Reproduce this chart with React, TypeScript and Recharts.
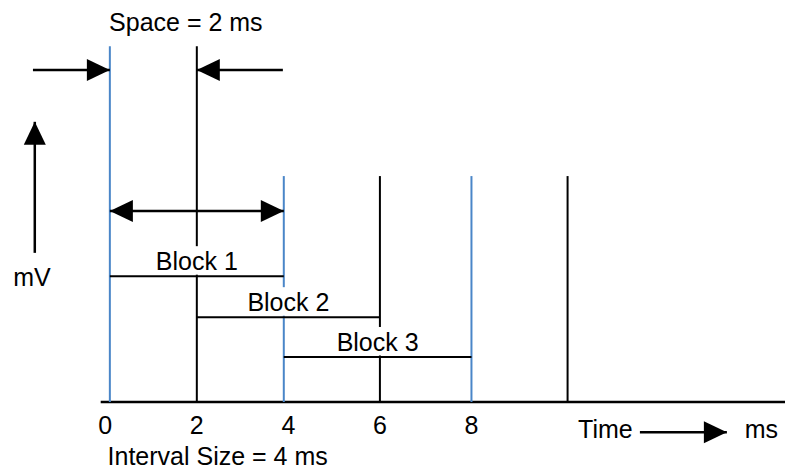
import { ComposedChart, XAxis, YAxis, ReferenceLine, ReferenceDot } from 'recharts';

// time (ms) of each pulse edge and its height
const pulseTimes = [0.1, 2, 3.9, 6, 8, 10.1];
const pulseHeights = [8.85, 8.85, 5.62, 5.62, 5.62, 5.62];

// overlapping blocks
const blockNames = ['Block 1', 'Block 2', 'Block 3'];
const blockStart = [0.1, 2, 3.9];
const blockEnd = [3.9, 6, 8];
const blockLevel = [3.13, 2.11, 1.12];

const timeTicks = [0, 2, 4, 6, 8];

// arrows: [x1, y1, x2, y2], head at (x2, y2)
const spaceArrows = [
  [-1.58, 8.26, 0.1, 8.26],
  [3.88, 8.26, 2, 8.26],
];
const intervalArrow = [0.1, 4.75, 3.9, 4.75];
const mvArrow = [-1.54, 3.71, -1.54, 6.97];
const timeArrow = [11.68, -0.75, 13.58, -0.75];

// text notes: [text, x, y, anchor]
const notes: [string, number, number, string][] = [
  ['Space = 2 ms', 1.76, 9.23, 'middle'],
  ['mV', -1.6, 2.88, 'middle'],
  ['Interval Size = 4 ms', 0.05, -1.57, 'start'],
  ['Time', 10.33, -0.9, 'start'],
  ['ms', 13.97, -0.9, 'start'],
];

const FONT = '"Liberation Sans", Arial, sans-serif';
const FS = 25;
const BLUE = '#4A86C8';
const HEAD_L = 23;
const HEAD_W = 11;

const head = (x: number, y: number, fx: number, fy: number, key: string) => {
  const dx = x - fx;
  const dy = y - fy;
  const len = Math.hypot(dx, dy) || 1;
  const ux = dx / len;
  const uy = dy / len;
  const bx = x - ux * HEAD_L;
  const by = y - uy * HEAD_L;
  const pts = `${x},${y} ${bx - uy * HEAD_W},${by + ux * HEAD_W} ${bx + uy * HEAD_W},${by - ux * HEAD_W}`;
  return <polygon key={key} points={pts} fill="#000" />;
};

const arrowShape = (both: boolean) => (p: any) => {
  const { x1, y1, x2, y2 } = p;
  return (
    <g>
      <line x1={x1} y1={y1} x2={x2} y2={y2} stroke="#000" strokeWidth={2.5} />
      {head(x2, y2, x1, y1, 'a')}
      {both && head(x1, y1, x2, y2, 'b')}
    </g>
  );
};

const blockShape = (name: string) => (p: any) => {
  const { x1, y1, x2, y2 } = p;
  const cx = (x1 + x2) / 2;
  return (
    <g>
      <rect x={cx - 45} y={y1 - 30} width={90} height={28.5} fill="#fff" />
      <text x={cx} y={y1 - 6} textAnchor="middle" fontSize={FS} fontFamily={FONT} fill="#000">{name}</text>
      <line x1={x1} y1={y1} x2={x2} y2={y2} stroke="#000" strokeWidth={2} />
    </g>
  );
};

const noteShape = (text: string, anchor: string) => (p: any) => (
  <text x={p.cx} y={p.cy} textAnchor={anchor as any} fontSize={FS} fontFamily={FONT} fill="#000">{text}</text>
);

const seg = (a: number[]) => [{ x: a[0], y: a[1] }, { x: a[2], y: a[3] }];

export default function App() {
  return (
    <div style={{ position: 'absolute', left: 0, top: 0, width: 785, height: 471, background: '#fff' }}>
      <ComposedChart width={785} height={471} margin={{ top: 0, right: 0, left: 0, bottom: 0 }}>
        <XAxis
          type="number"
          dataKey="x"
          domain={[-2.3, 14.85]}
          allowDataOverflow
          ticks={timeTicks}
          interval={0}
          axisLine={false}
          tickLine={false}
          tickSize={0}
          tickMargin={14}
          height={69}
          tick={{ fontSize: FS, fill: '#000', fontFamily: FONT }}
        />
        <YAxis type="number" hide domain={[0, 10]} allowDataOverflow />

        {/* time baseline */}
        <ReferenceLine segment={[{ x: -0.1, y: 0 }, { x: 14.85, y: 0 }]} stroke="#000" strokeWidth={2.5} ifOverflow="visible" />

        {pulseTimes.map((t, i) => (
          <ReferenceLine
            key={'p' + i}
            segment={[{ x: t, y: 0 }, { x: t, y: pulseHeights[i] }]}
            stroke={i % 2 === 0 ? BLUE : '#000'}
            strokeWidth={2}
            ifOverflow="visible"
          />
        ))}

        {blockNames.map((n, i) => (
          <ReferenceLine
            key={'b' + i}
            segment={[{ x: blockStart[i], y: blockLevel[i] }, { x: blockEnd[i], y: blockLevel[i] }]}
            ifOverflow="visible"
            shape={blockShape(n)}
          />
        ))}

        {spaceArrows.map((a, i) => (
          <ReferenceLine key={'s' + i} segment={seg(a)} ifOverflow="visible" shape={arrowShape(false)} />
        ))}
        <ReferenceLine segment={seg(intervalArrow)} ifOverflow="visible" shape={arrowShape(true)} />
        <ReferenceLine segment={seg(mvArrow)} ifOverflow="visible" shape={arrowShape(false)} />
        <ReferenceLine segment={seg(timeArrow)} ifOverflow="visible" shape={arrowShape(false)} />

        {notes.map(([t, x, y, anchor], i) => (
          <ReferenceDot key={'n' + i} x={x} y={y} r={0} ifOverflow="visible" shape={noteShape(t, anchor)} />
        ))}
      </ComposedChart>
    </div>
  );
}
